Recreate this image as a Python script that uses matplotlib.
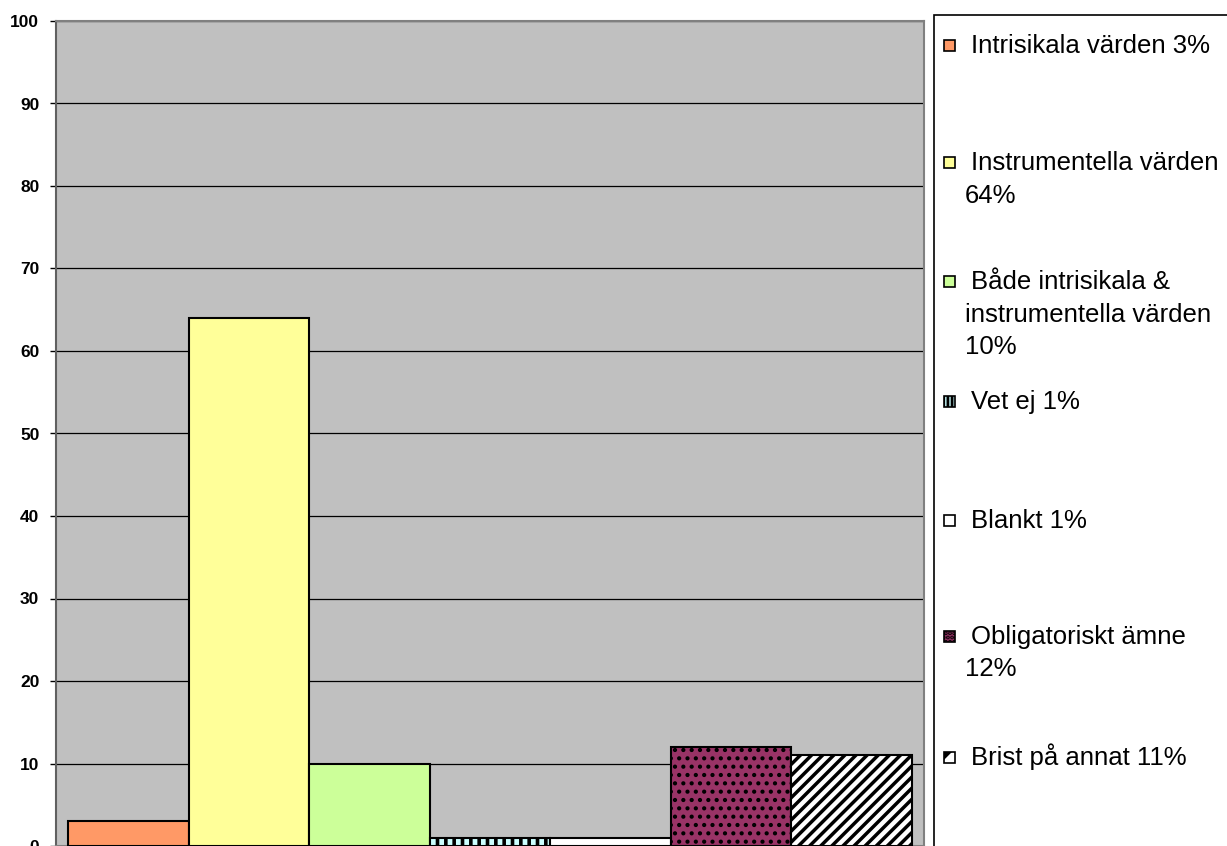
import matplotlib
matplotlib.use("Agg")
import matplotlib.pyplot as plt
from matplotlib.patches import Rectangle

# Survey answers (percent) and their legend labels
categories = [
    "Intrisikala värden 3%",
    "Instrumentella värden\n64%",
    "Både intrisikala &\ninstrumentella värden\n10%",
    "Vet ej 1%",
    "Blankt 1%",
    "Obligatoriskt ämne\n12%",
    "Brist på annat 11%",
]
values = [3, 64, 10, 1, 1, 12, 11]
yticks = [0, 10, 20, 30, 40, 50, 60, 70, 80, 90, 100]

# Fill styles per series (bar hatch, legend-swatch hatch)
colors = ["#FF9966", "#FFFF99", "#CCFF99", "#CCFFFF", "#FFFFFF", "#993366", "#FFFFFF"]
hatches = [None, None, None, "||", None, "..", "///"]
hatch_widths = [1.0, 1.0, 1.0, 2.6, 1.0, 1.8, 2.5]
swatch_hatches = [None, None, None, "||||", None, "....", "/"]
swatch_widths = [1.0, 1.0, 1.0, 2.0, 1.0, 2.0, 4.0]

plt.rcParams["font.family"] = ["Liberation Sans", "DejaVu Sans"]

W, H = 1227, 846
fig = plt.figure(figsize=(W / 100, H / 100), dpi=100)


def fx(px):
    return px / W


def fy(py):
    return 1 - py / H


ax = fig.add_axes([fx(56), 0, fx(924) - fx(56), fy(21)])
ax.set_facecolor("#C0C0C0")

for i, (v, c, h, hw) in enumerate(zip(values, colors, hatches, hatch_widths)):
    plt.rcParams["hatch.linewidth"] = hw
    bars = ax.bar(i, v, width=1.0, color=c, edgecolor="black", linewidth=1.5,
                  hatch=h, zorder=3)
    for b in bars:
        if hasattr(b, "set_hatch_linewidth"):
            b.set_hatch_linewidth(hw)

ax.set_xlim(-0.6, len(values) - 0.4)
ax.set_ylim(0, 100)
ax.set_yticks(yticks)
ax.set_yticklabels([str(t) for t in yticks], fontsize=12.5, fontweight="bold")
ax.tick_params(axis="y", length=4, width=1, pad=8, color="black")
ax.set_xticks([])
ax.yaxis.grid(True, color="black", linewidth=0.9, zorder=1)
ax.set_axisbelow(True)
for s in ax.spines.values():
    s.set_color("#808080")
    s.set_linewidth(1.5)
ax.spines["left"].set_color("#606060")

# Legend panel drawn in figure pixels
fig.patches.append(Rectangle((fx(934), -0.05), 1, fy(15) + 0.05,
                             transform=fig.transFigure, facecolor="white",
                             edgecolor="black", linewidth=1.2, zorder=0))

first_line_centers = [45, 162, 281, 401, 520, 636, 757]
line_gap = 32.5
for lab, cy, c, sh, sw in zip(categories, first_line_centers, colors,
                              swatch_hatches, swatch_widths):
    plt.rcParams["hatch.linewidth"] = sw
    m = Rectangle((fx(944), fy(cy + 6)), fx(11), 11 / H, transform=fig.transFigure,
                  facecolor=c, edgecolor="black", linewidth=1.2, hatch=sh, zorder=2)
    if hasattr(m, "set_hatch_linewidth"):
        m.set_hatch_linewidth(sw)
    fig.patches.append(m)
    for j, line in enumerate(lab.split("\n")):
        xpos = 971 if j == 0 else 965
        fig.text(fx(xpos), fy(cy + 8 + j * line_gap), line, fontsize=18.5,
                 ha="left", va="baseline", color="black")

fig.savefig("out.png", dpi=100)
